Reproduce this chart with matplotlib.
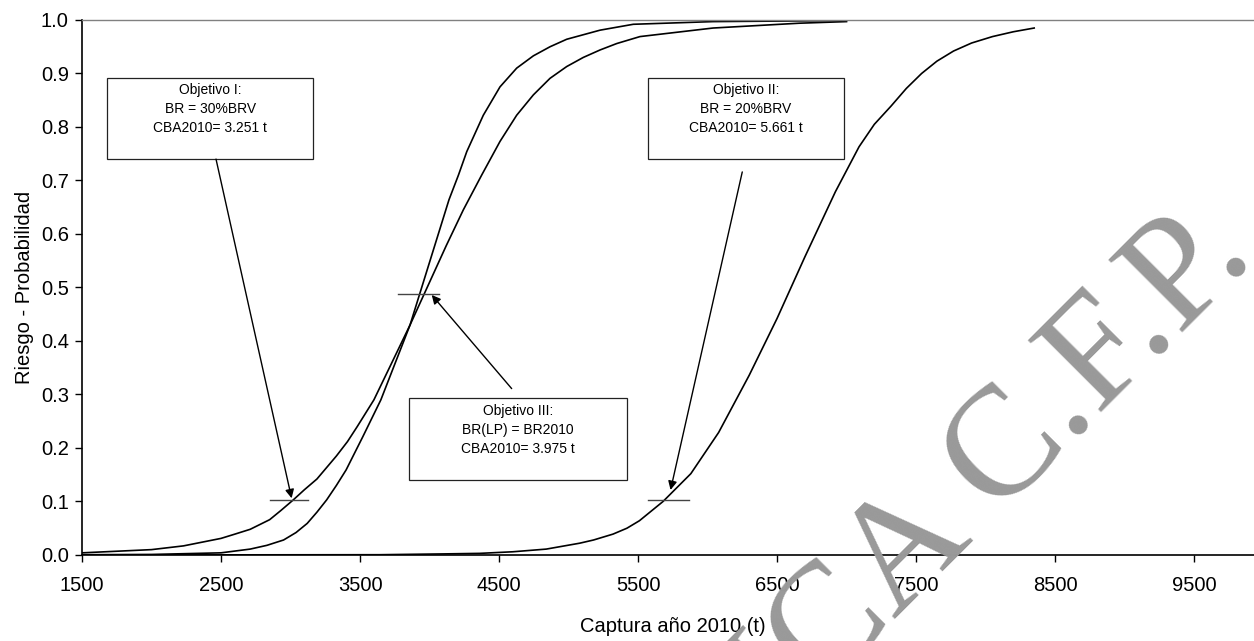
import matplotlib
matplotlib.use('Agg')
import numpy as np
from matplotlib import pyplot as plt
from matplotlib.patches import Rectangle

plt.rcParams['font.family'] = ['Liberation Sans', 'DejaVu Sans']

# curves (captura 2010 in t, probability)
obj1_x = [1500, 2000, 2230, 2500, 2600, 2710, 2850, 2930, 3020, 3100, 3190, 3330, 3410, 3480,
          3600, 3860, 4120, 4243, 4375, 4507, 4627, 4747, 4867, 4987, 5106, 5227, 5347,
          5514, 6040, 6660, 7000]
obj1_y = [0.004, 0.010, 0.017, 0.031, 0.039, 0.048, 0.066, 0.083, 0.103, 0.122, 0.142, 0.185,
          0.212, 0.240, 0.290, 0.430, 0.578, 0.645, 0.710, 0.773, 0.822, 0.860, 0.891, 0.913,
          0.930, 0.944, 0.956, 0.969, 0.985, 0.994, 0.997]

obj3_x = [1500, 2000, 2500, 2710, 2830, 2950, 3040, 3120, 3190, 3260, 3330, 3400, 3520, 3650,
          3860, 4140, 4208, 4268, 4387, 4507, 4627, 4747, 4867, 4987, 5227, 5466, 6040, 7000]
obj3_y = [0.0005, 0.001, 0.004, 0.011, 0.018, 0.028, 0.042, 0.059, 0.080, 0.103, 0.130, 0.159,
          0.221, 0.290, 0.430, 0.664, 0.710, 0.754, 0.822, 0.875, 0.910, 0.933, 0.950, 0.964,
          0.981, 0.992, 0.997, 0.999]

obj2_x = [1500, 3640, 4100, 4360, 4600, 4840, 5080, 5180, 5320, 5420, 5510, 5680, 5880, 6080,
          6300, 6500, 6700, 6920, 7090, 7200, 7320, 7430, 7540, 7650, 7770, 7900, 8050,
          8200, 8350]
obj2_y = [0.0, 0.0005, 0.002, 0.003, 0.006, 0.011, 0.022, 0.028, 0.039, 0.050, 0.064, 0.100,
          0.152, 0.229, 0.336, 0.442, 0.557, 0.679, 0.763, 0.805, 0.839, 0.872, 0.900, 0.923,
          0.942, 0.957, 0.969, 0.978, 0.985]

# short horizontal marks (x from, x to, level)
mark_x0 = [2853, 5574, 3776]
mark_x1 = [3124, 5867, 4070]
mark_y = [0.102, 0.102, 0.488]

box_texts = ['Objetivo I:\nBR = 30%BRV\nCBA2010= 3.251 t',
             'Objetivo II:\nBR = 20%BRV\nCBA2010= 5.661 t',
             'Objetivo III:\nBR(LP) = BR2010\nCBA2010= 3.975 t']
box_x0 = [1682, 5572, 3855]
box_x1 = [3164, 6982, 5419]
box_y0 = [0.740, 0.740, 0.140]
box_y1 = [0.892, 0.892, 0.293]
text_y = [0.833, 0.833, 0.234]
arrow_start = [(2464, 0.740), (6250, 0.716), (4591, 0.311)]
arrow_tip = [(3008, 0.106), (5734, 0.1215), (4016, 0.486)]

xticks = np.arange(1500, 10000, 1000)
yticks = np.arange(0, 1.01, 0.1)

fig = plt.figure(figsize=(12.54, 6.41), dpi=100)
ax = fig.add_axes([0.0654, 0.1342, 0.9422, 0.8346])

ax.plot(obj1_x, obj1_y, color='black', lw=1.2)
ax.plot(obj3_x, obj3_y, color='black', lw=1.2)
ax.plot(obj2_x, obj2_y, color='black', lw=1.2)

for x0, x1, y in zip(mark_x0, mark_x1, mark_y):
    ax.plot([x0, x1], [y, y], color='#444444', lw=1.0)

for txt, x0, x1, y0, y1, ty in zip(box_texts, box_x0, box_x1, box_y0, box_y1, text_y):
    ax.add_patch(Rectangle((x0, y0), x1 - x0, y1 - y0, fill=True, facecolor='white',
                           edgecolor='#222222', lw=0.9, zorder=3))
    ax.text((x0 + x1) / 2, ty, txt, ha='center', va='center', fontsize=10,
            linespacing=1.45, zorder=4)

for (sx, sy), (tx, ty) in zip(arrow_start, arrow_tip):
    ax.annotate('', xy=(tx, ty), xytext=(sx, sy),
                arrowprops=dict(arrowstyle='-|>', color='black', lw=1.0,
                                mutation_scale=13, shrinkA=0, shrinkB=0))

ax.set_xlim(1500, 10000)
ax.set_ylim(0, 1)
ax.set_xticks(xticks)
ax.set_yticks(yticks)
ax.set_yticklabels([f'{v:.1f}' for v in yticks])
ax.tick_params(axis='both', direction='out', length=5, width=1, labelsize=14.5)
ax.tick_params(axis='x', pad=10)
ax.tick_params(axis='y', pad=4.5)

ax.spines['right'].set_visible(False)
ax.spines['top'].set_color('#808080')
ax.spines['top'].set_linewidth(1.0)
ax.spines['left'].set_linewidth(1.2)
ax.spines['bottom'].set_linewidth(1.2)

ax.set_xlabel('Captura año 2010 (t)', fontsize=14.5, labelpad=16)
ax.set_ylabel('Riesgo - Probabilidad', fontsize=14.5, labelpad=5)

# watermark across the chart
fig.text(1.0012, 0.5964, 'TECNICA C.F.P.', fontsize=113, family='Liberation Serif',
         color='#999999', rotation=45, rotation_mode='anchor', ha='right', va='baseline',
         zorder=10)

plt.savefig('out.png', dpi=100)
